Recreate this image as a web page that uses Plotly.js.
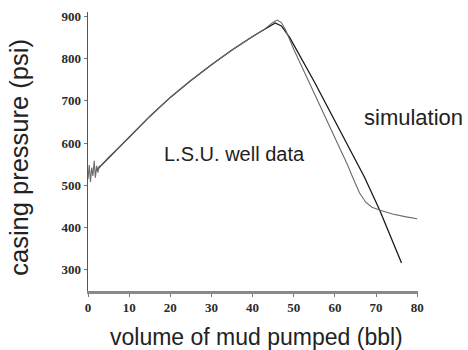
<!DOCTYPE html>
<html>
<head>
<meta charset="utf-8">
<script src="https://cdn.plot.ly/plotly-3.0.1.min.js"></script>
<style>html,body{margin:0;padding:0;background:#fff;}#chart{width:468px;height:350px;}</style>
</head>
<body>
<div id="chart"></div>
<script>
// L.S.U. well data (volume in bbl, casing pressure in psi)
const wellVolume = [0, 0.3, 0.6, 0.9, 1.2, 1.5, 1.8, 2.1, 2.4, 2.7, 3, 5, 10, 15, 20, 25, 30, 35, 40, 43, 45, 46, 47, 48, 50, 55, 60, 63, 64.5, 66, 67.5, 69, 71, 74, 77, 80];
const wellPressure = [515, 548, 508, 542, 522, 558, 518, 546, 530, 545, 545, 566, 613, 663, 708, 748, 785, 820, 852, 870, 886, 891, 885, 868, 822, 718, 612, 550, 515, 482, 460, 448, 441, 432, 426, 421];

// simulation
const simVolume = [2, 5, 10, 15, 20, 25, 30, 35, 40, 44, 45.5, 47, 49, 55, 60, 64, 67.2, 70.9, 73, 76.2];
const simPressure = [535, 565, 613, 663, 708, 748, 785, 820, 852, 876, 884, 877, 850, 745, 653, 578, 519, 441, 393, 316];

const xTicks = [0, 10, 20, 30, 40, 50, 60, 70, 80];
const yTicks = [300, 400, 500, 600, 700, 800, 900];

const traces = [
  {x: simVolume, y: simPressure, type: 'scatter', mode: 'lines', name: 'simulation',
   line: {color: '#1a1a1a', width: 1.3}},
  {x: wellVolume, y: wellPressure, type: 'scatter', mode: 'lines', name: 'L.S.U. well data',
   line: {color: '#6a6a6a', width: 1.1}}
];

const tickFont = {family: 'Liberation Serif, serif', size: 13, color: '#2a2a2a'};
const sans = 'Liberation Sans, Arial, sans-serif';

const layout = {
  width: 468, height: 350,
  margin: {l: 88, r: 50, t: 12, b: 59},
  paper_bgcolor: '#fff', plot_bgcolor: '#fff',
  showlegend: false,
  xaxis: {
    range: [0, 80.2], tickvals: xTicks, ticktext: xTicks.map(v => '<b>' + v + '</b>'),
    showgrid: false, zeroline: false, showline: true, linecolor: '#8a8a8a', linewidth: 2.5,
    ticks: 'outside', ticklen: 3, tickcolor: '#777', tickfont: tickFont
  },
  yaxis: {
    range: [250, 910], tickvals: yTicks, ticktext: yTicks.map(v => '<b>' + v + '</b>'),
    showgrid: false, zeroline: false, showline: true, linecolor: '#555', linewidth: 1.5,
    ticks: 'outside', ticklen: 3, tickcolor: '#777', tickfont: tickFont
  },
  annotations: [
    {x: 0.512, y: -0.165, xref: 'paper', yref: 'paper', text: 'volume of mud pumped (bbl)', showarrow: false,
     xanchor: 'center', yanchor: 'middle', font: {family: sans, size: 23, color: '#222'}},
    {x: -0.21, y: 0.48, xref: 'paper', yref: 'paper', text: 'casing pressure (psi)', showarrow: false,
     textangle: -90, xanchor: 'center', yanchor: 'middle', font: {family: sans, size: 25.5, color: '#222'}},
    {x: 35.7, y: 573, xref: 'x', yref: 'y', text: 'L.S.U. well data', showarrow: false,
     font: {family: sans, size: 20, color: '#222'}},
    {x: 79.1, y: 661, xref: 'x', yref: 'y', text: 'simulation', showarrow: false,
     font: {family: sans, size: 22, color: '#222'}}
  ]
};

Plotly.newPlot('chart', traces, layout, {displayModeBar: false, staticPlot: true});
</script>
</body>
</html>
